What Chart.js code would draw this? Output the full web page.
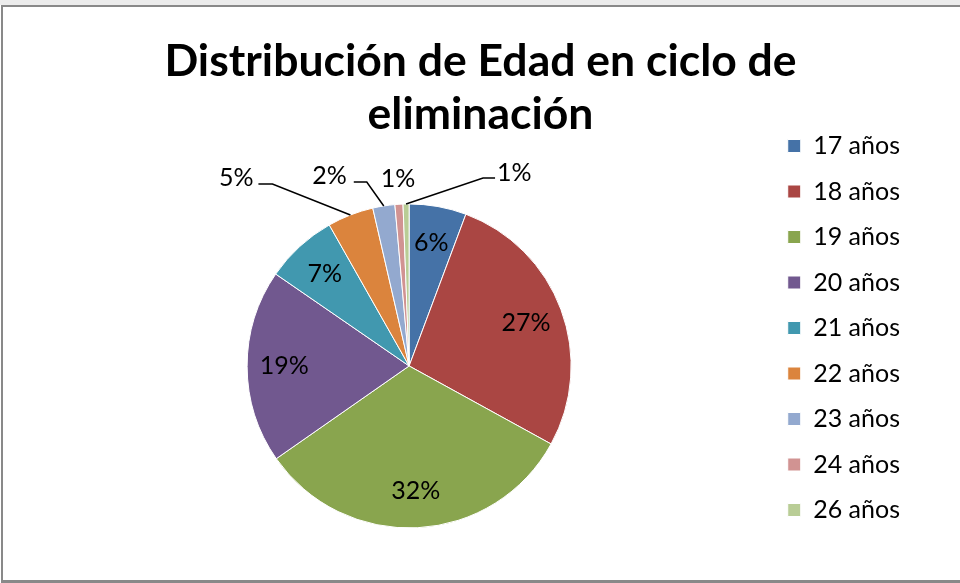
<!DOCTYPE html>
<html>
<head>
<meta charset="utf-8">
<script src="https://cdn.jsdelivr.net/npm/chart.js@4/dist/chart.umd.min.js"></script>
<style>
  html, body { margin: 0; padding: 0; width: 960px; height: 583px; overflow: hidden; background: #fff; }
  .strip { position: absolute; left: 0; top: 0; width: 960px; height: 5px; background: #ececec; }
  .frame { position: absolute; left: 1px; top: 5px; width: 1000px; height: 573px;
           border-left: 2px solid #898989; border-top: 2px solid #898989; border-bottom: 3px solid #898989; }
  #myChart { position: absolute; left: 0; top: 0; }
</style>
</head>
<body>
<div class="strip"></div>
<div class="frame"></div>
<canvas id="myChart" width="960" height="583"></canvas>
<script>
const titleLines = ["Distribución de Edad en ciclo de", "eliminación"];
const ageLabels = ["17 años", "18 años", "19 años", "20 años", "21 años", "22 años", "23 años", "24 años", "26 años"];
// shares in %
const ageShares = [5.7, 27.3, 32.3, 19.3, 7.2, 4.6, 2.2, 0.8, 0.6];
const sliceColors = ["#4572A7", "#AA4643", "#89A54E", "#71588F", "#4198AF", "#DB843D", "#93A9CF", "#D19392", "#B9CD96"];

// percentage labels: inside for big slices, outside (with leader lines) for the small ones
const pctLabels = {
  id: "pctLabels",
  afterDatasetsDraw(chart, args, opts) {
    const ctx = chart.ctx;
    const meta = chart.getDatasetMeta(0);
    const data = chart.data.datasets[0].data;
    ctx.save();
    ctx.font = opts.font;
    ctx.fillStyle = "#000";
    ctx.strokeStyle = "#000";
    ctx.lineWidth = 1.5;
    ctx.textBaseline = "middle";
    meta.data.forEach((arc, i) => {
      const { x, y, startAngle, endAngle, outerRadius } = arc.getProps(
        ["x", "y", "startAngle", "endAngle", "outerRadius"], true);
      const mid = (startAngle + endAngle) / 2;
      const txt = Math.round(data[i]) + "%";
      const out = opts.outside[i];
      if (!out) {
        const r = outerRadius * 0.77;
        ctx.textAlign = "center";
        ctx.fillText(txt, x + Math.cos(mid) * r, y + Math.sin(mid) * r);
        return;
      }
      const ax = x + Math.cos(mid) * outerRadius;
      const ay = y + Math.sin(mid) * outerRadius;
      if (out.line) {
        ctx.beginPath();
        ctx.moveTo(ax, ay);
        out.line.forEach((p) => ctx.lineTo(ax + p[0], ay + p[1]));
        ctx.stroke();
      }
      ctx.textAlign = out.align;
      ctx.fillText(txt, ax + out.text[0], ay + out.text[1]);
    });
    ctx.restore();
  },
};

const chart = new Chart(document.getElementById("myChart"), {
  type: "pie",
  data: {
    labels: ageLabels,
    datasets: [
      {
        data: ageShares,
        backgroundColor: sliceColors,
        borderColor: "#ffffff",
        borderWidth: 1,
        radius: 162,
      },
    ],
  },
  options: {
    responsive: false,
    animation: false,
    devicePixelRatio: 1,
    layout: {
      padding: { left: 51, right: 50, top: 0, bottom: 40 },
    },
    plugins: {
      title: {
        display: true,
        text: titleLines,
        color: "#000",
        font: { family: "Lato", size: 44.5, weight: "bold", lineHeight: 1.19 },
        padding: { top: 35, bottom: 48 },
      },
      legend: {
        position: "right",
        align: "end",
        labels: {
          boxWidth: 13,
          boxHeight: 13,
          padding: 20.5,
          color: "#000",
          font: { family: "Lato", size: 25 },
        },
      },
      tooltip: { enabled: false },
      pctLabels: {
        font: "25px Lato",
        outside: {
          5: { line: [[-78, -31], [-92, -31]], text: [-97, -37], align: "right" },
          6: { line: [[-17, -24], [-30, -24]], text: [-37, -30], align: "right" },
          7: { text: [-1, -25], align: "center" },
          8: { line: [[77, -26], [89, -26]], text: [91, -31], align: "left" },
        },
      },
    },
  },
  plugins: [pctLabels],
});
</script>
</body>
</html>
